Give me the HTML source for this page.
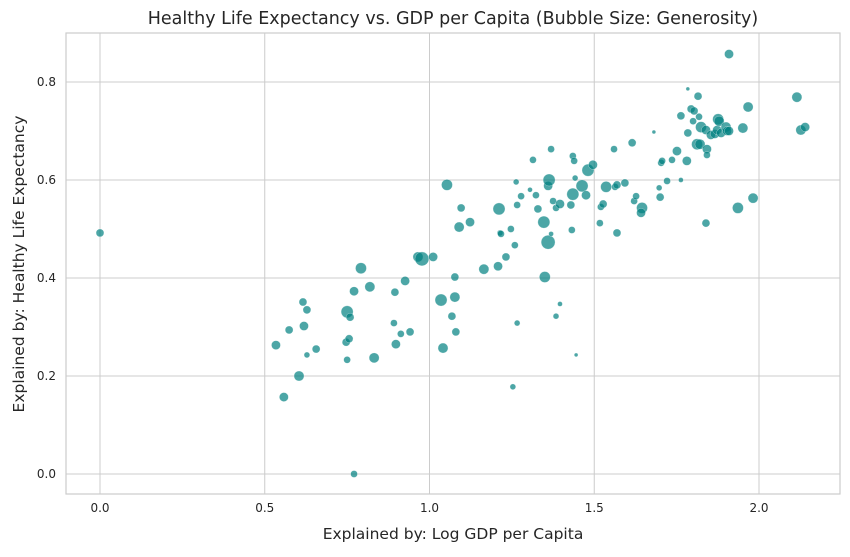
<!DOCTYPE html>
<html><head><meta charset="utf-8"><style>
body{margin:0;background:#fff;font-family:"Liberation Sans","DejaVu Sans",sans-serif}
svg text{font-family:"DejaVu Sans","Liberation Sans",sans-serif;fill:#262626}
</style></head><body>
<svg id="chart" width="850" height="552">
<rect width="850" height="552" fill="#fff"/>
<g id="grid"></g><g id="pts"></g><g id="axes"></g>
<text x="453" y="24" text-anchor="middle" font-size="17.5">Healthy Life Expectancy vs. GDP per Capita (Bubble Size: Generosity)</text>
<text x="453" y="539" text-anchor="middle" font-size="15.5">Explained by: Log GDP per Capita</text>
<text transform="translate(24,264) rotate(-90)" text-anchor="middle" font-size="15.5">Explained by: Healthy Life Expectancy</text>
</svg>
<script>
const gdp=[0.000,0.534,0.558,0.574,0.604,0.616,0.628,0.619,0.628,0.656,0.750,0.759,0.747,0.756,0.750,0.771,0.771,0.792,0.819,0.832,0.892,0.898,0.895,0.913,0.926,0.941,0.965,0.977,1.011,1.035,1.041,1.053,1.068,1.077,1.077,1.080,1.090,1.096,1.123,1.165,1.208,1.211,1.214,1.217,1.232,1.247,1.253,1.259,1.263,1.266,1.266,1.278,1.305,1.314,1.323,1.329,1.347,1.360,1.363,1.360,1.369,1.369,1.375,1.384,1.384,1.396,1.396,1.350,1.429,1.432,1.435,1.435,1.439,1.442,1.445,1.463,1.475,1.481,1.496,1.517,1.520,1.527,1.536,1.560,1.563,1.569,1.569,1.593,1.615,1.621,1.627,1.645,1.642,1.681,1.697,1.700,1.703,1.706,1.721,1.736,1.751,1.763,1.763,1.781,1.784,1.784,1.794,1.803,1.800,1.812,1.815,1.818,1.821,1.824,1.839,1.842,1.842,1.839,1.854,1.866,1.873,1.876,1.879,1.885,1.900,1.903,1.909,1.909,1.936,1.951,1.967,1.982,2.115,2.127,2.140];
const health=[0.492,0.263,0.157,0.294,0.200,0.351,0.335,0.302,0.243,0.255,0.331,0.320,0.269,0.276,0.233,0.000,0.373,0.420,0.382,0.237,0.308,0.265,0.371,0.286,0.394,0.290,0.443,0.439,0.443,0.355,0.257,0.590,0.322,0.361,0.402,0.290,0.504,0.543,0.514,0.418,0.424,0.541,0.492,0.490,0.443,0.500,0.178,0.467,0.596,0.308,0.549,0.567,0.580,0.641,0.569,0.541,0.514,0.588,0.600,0.473,0.663,0.490,0.557,0.543,0.322,0.551,0.347,0.402,0.549,0.498,0.571,0.649,0.639,0.604,0.243,0.588,0.569,0.620,0.631,0.512,0.545,0.551,0.586,0.663,0.586,0.590,0.492,0.594,0.676,0.557,0.567,0.543,0.533,0.698,0.584,0.565,0.635,0.639,0.598,0.641,0.659,0.600,0.731,0.639,0.786,0.696,0.745,0.741,0.720,0.673,0.771,0.729,0.673,0.708,0.702,0.663,0.651,0.512,0.692,0.694,0.702,0.724,0.720,0.696,0.708,0.700,0.857,0.700,0.543,0.706,0.749,0.563,0.769,0.702,0.708];
const generosity=[0.13,0.17,0.17,0.13,0.21,0.13,0.13,0.17,0.07,0.13,0.30,0.13,0.13,0.13,0.10,0.10,0.17,0.25,0.21,0.21,0.10,0.17,0.13,0.10,0.17,0.13,0.21,0.40,0.17,0.30,0.21,0.25,0.13,0.21,0.13,0.13,0.21,0.13,0.17,0.21,0.17,0.30,0.07,0.10,0.13,0.10,0.07,0.10,0.07,0.07,0.10,0.10,0.05,0.10,0.10,0.13,0.30,0.17,0.30,0.40,0.10,0.05,0.10,0.10,0.07,0.17,0.05,0.25,0.13,0.10,0.30,0.10,0.10,0.07,0.03,0.30,0.17,0.30,0.17,0.10,0.10,0.13,0.25,0.10,0.10,0.13,0.13,0.13,0.13,0.10,0.10,0.25,0.17,0.03,0.07,0.13,0.10,0.10,0.10,0.10,0.17,0.05,0.13,0.17,0.03,0.13,0.13,0.13,0.10,0.25,0.13,0.10,0.21,0.25,0.17,0.17,0.10,0.13,0.17,0.17,0.17,0.25,0.21,0.17,0.21,0.17,0.17,0.17,0.25,0.21,0.21,0.21,0.21,0.21,0.17];
const xTicks=[0.0,0.5,1.0,1.5,2.0];
const yTicks=[0.0,0.2,0.4,0.6,0.8];
const X0=66,X1=840,Y0=33,Y1=494;
const xs=v=>100+v*329.5, ys=v=>474-v*490;
const NS='http://www.w3.org/2000/svg';
function mk(tag,attrs,parent){const e=document.createElementNS(NS,tag);for(const k in attrs)e.setAttribute(k,attrs[k]);parent.appendChild(e);return e;}
const grid=document.getElementById('grid'),pts=document.getElementById('pts'),axes=document.getElementById('axes');
xTicks.forEach(t=>{
 const l=mk('line',{x1:xs(t),x2:xs(t),y1:Y0,y2:Y1,stroke:'#cccccc','stroke-width':1},grid);
 
 
 const tx=mk('text',{x:xs(t),y:Y1+18,'text-anchor':'middle','font-size':12},axes);tx.textContent=t.toFixed(1);
 
 
});
yTicks.forEach(t=>{
 const l=mk('line',{x1:X0,x2:X1,y1:ys(t),y2:ys(t),stroke:'#cccccc','stroke-width':1},grid);
 
 
 const tx=mk('text',{x:X0-10,y:ys(t)+4,'text-anchor':'end','font-size':12},axes);tx.textContent=t.toFixed(1);
 
 
});
const fr=mk('rect',{x:X0,y:Y0,width:X1-X0,height:Y1-Y0,fill:'none',stroke:'#cccccc','stroke-width':1.2},axes);


gdp.forEach((g,i)=>{
 const c=mk('circle',{cx:xs(g),cy:ys(health[i]),r:Math.sqrt(generosity[i])*11,fill:'#008080','fill-opacity':0.7,stroke:'#ffffff','stroke-opacity':0.5,'stroke-width':0.5},pts);
 
 
});
</script>
</body></html>
